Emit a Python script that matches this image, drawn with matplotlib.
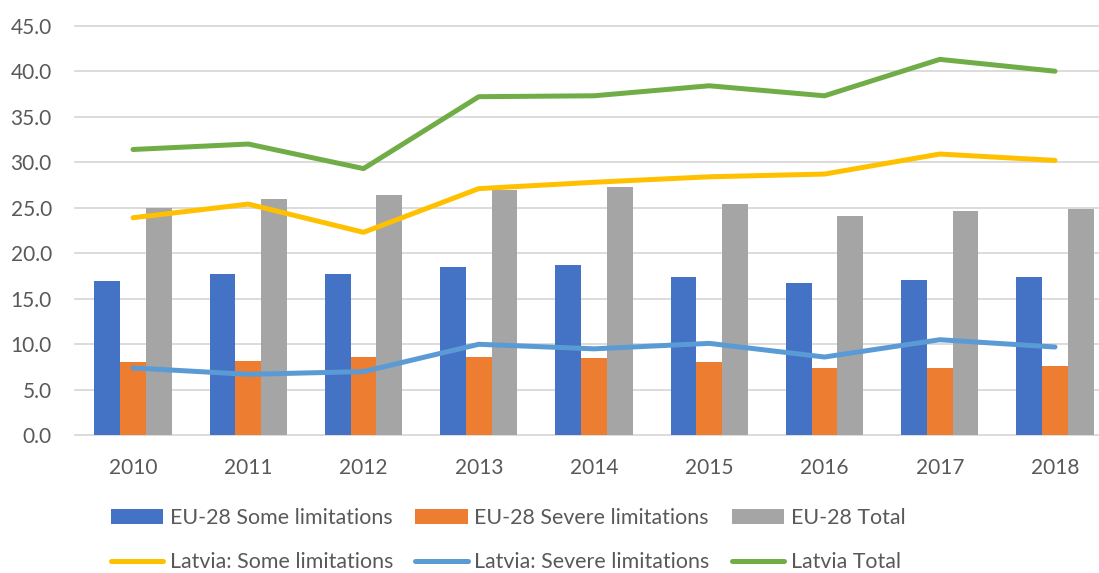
import matplotlib
matplotlib.use("Agg")
import matplotlib.pyplot as plt
import numpy as np

years = ["2010", "2011", "2012", "2013", "2014", "2015", "2016", "2017", "2018"]
eu_some = [16.9, 17.7, 17.7, 18.5, 18.7, 17.4, 16.7, 17.1, 17.4]
eu_severe = [8.0, 8.2, 8.6, 8.6, 8.5, 8.1, 7.4, 7.4, 7.6]
eu_total = [25.0, 26.0, 26.4, 27.0, 27.3, 25.4, 24.1, 24.6, 24.9]
lv_some = [23.9, 25.4, 22.3, 27.1, 27.8, 28.4, 28.7, 30.9, 30.2]
lv_severe = [7.4, 6.7, 7.0, 10.0, 9.5, 10.1, 8.6, 10.5, 9.7]
lv_total = [31.4, 32.0, 29.3, 37.2, 37.3, 38.4, 37.3, 41.3, 40.0]
yticks = [0, 5, 10, 15, 20, 25, 30, 35, 40, 45]

plt.rcParams['font.family'] = ['Lato', 'DejaVu Sans']
txt = '#595959'

fig = plt.figure(figsize=(10.99, 5.73), dpi=100)
ax = fig.add_axes([75.4 / 1099, (573 - 435.3) / 573, (1099 - 75.4) / 1099, (435.3 - 25.7) / 573])

x = np.arange(len(years))
w = 0.223
b1 = ax.bar(x - w, eu_some, w, color='#4472C4', zorder=2, label='EU-28 Some limitations')
b2 = ax.bar(x, eu_severe, w, color='#ED7D31', zorder=2, label='EU-28 Severe limitations')
b3 = ax.bar(x + w, eu_total, w, color='#A5A5A5', zorder=2, label='EU-28 Total')
l1, = ax.plot(x, lv_some, color='#FFC000', lw=3.6, solid_capstyle='round', solid_joinstyle='round', zorder=3, label='Latvia: Some limitations')
l2, = ax.plot(x, lv_severe, color='#5B9BD5', lw=3.6, solid_capstyle='round', solid_joinstyle='round', zorder=3, label='Latvia: Severe limitations')
l3, = ax.plot(x, lv_total, color='#70AD47', lw=3.6, solid_capstyle='round', solid_joinstyle='round', zorder=3, label='Latvia Total')

for yv in yticks:
    ax.axhline(yv, color='#D9D9D9', lw=1.3, zorder=0, clip_on=False)

ax.set_xlim(-0.5, 8 + (1099 - 1055) / 115.25)
ax.set_ylim(0, 45)
ax.set_xticks(x)
ax.set_xticklabels(years)
ax.set_yticks(yticks)
ax.set_yticklabels([f"{v:.1f}" for v in yticks])
for s in ax.spines.values():
    s.set_visible(False)
ax.tick_params(axis='both', length=0, labelsize=15, colors=txt)
ax.tick_params(axis='y', pad=17)
ax.tick_params(axis='x', pad=16)

handles = [b1, l1, b2, l2, b3, l3]
labels = [h.get_label() for h in handles]
leg = fig.legend(handles, labels, ncol=3, loc='center', bbox_to_anchor=(508 / 1099, 1 - 540 / 573),
                 frameon=False, fontsize=15.4, handlelength=2.45, handletextpad=0.3,
                 columnspacing=1.05, labelspacing=1.15, borderpad=0)
for t in leg.get_texts():
    t.set_color(txt)

fig.savefig('out.png', dpi=100)
